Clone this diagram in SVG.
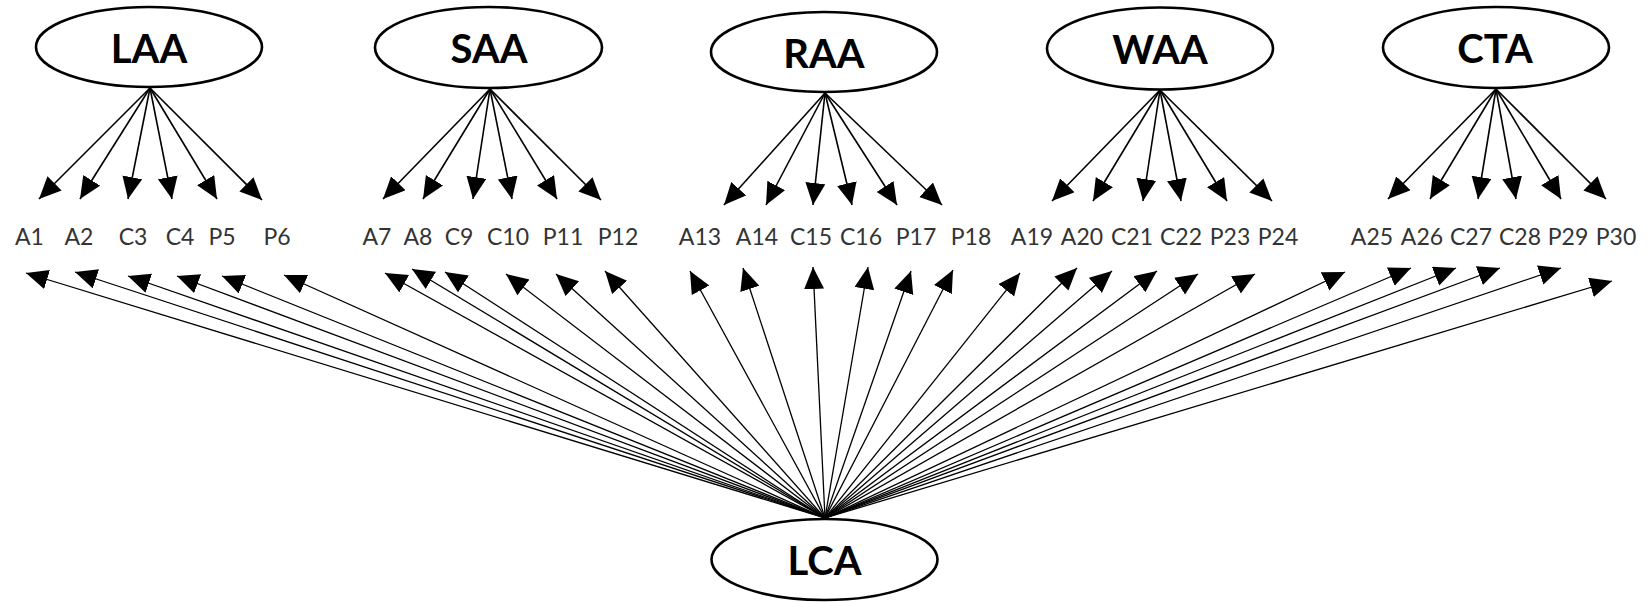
<svg xmlns="http://www.w3.org/2000/svg" width="1648" height="602" viewBox="0 0 1648 602">
<style>
.node ellipse{fill:#fff;stroke:#000;stroke-width:2.6}
.title{font-family:Lato,"Liberation Sans",sans-serif;font-weight:700;font-size:40px;fill:#000;text-anchor:middle}
.lbl{font-family:Lato,"Liberation Sans",sans-serif;font-size:23px;fill:#333;text-anchor:middle}
.top line{stroke:#000;stroke-width:1.6;marker-end:url(#ah)}
.bot line{stroke:#000;stroke-width:1.3;marker-end:url(#ah)}
</style>
<defs>
<marker id="ah" markerUnits="userSpaceOnUse" markerWidth="24" markerHeight="22" refX="22" refY="10" orient="auto" viewBox="0 0 24 22">
<path d="M0,0 L22,10 L0,20 z" fill="#000"/>
</marker>
</defs>
<rect width="1648" height="602" fill="#fff"/>
<g id="connectors">
<g class="top">
<line x1="150" y1="88" x2="39" y2="199"/>
<line x1="150" y1="88" x2="80" y2="199"/>
<line x1="150" y1="88" x2="128" y2="199"/>
<line x1="150" y1="88" x2="172" y2="199"/>
<line x1="150" y1="88" x2="217" y2="199"/>
<line x1="150" y1="88" x2="262" y2="200"/>
<line x1="490" y1="89" x2="383" y2="199"/>
<line x1="490" y1="89" x2="423" y2="199"/>
<line x1="490" y1="89" x2="473" y2="199"/>
<line x1="490" y1="89" x2="512" y2="199"/>
<line x1="490" y1="89" x2="557" y2="199"/>
<line x1="490" y1="89" x2="601" y2="200"/>
<line x1="825" y1="93" x2="724" y2="205"/>
<line x1="825" y1="93" x2="766" y2="205"/>
<line x1="825" y1="93" x2="813" y2="205"/>
<line x1="825" y1="93" x2="852" y2="205"/>
<line x1="825" y1="93" x2="897" y2="205"/>
<line x1="825" y1="93" x2="942" y2="205"/>
<line x1="1160" y1="90" x2="1052" y2="201"/>
<line x1="1160" y1="90" x2="1093" y2="201"/>
<line x1="1160" y1="90" x2="1143" y2="201"/>
<line x1="1160" y1="90" x2="1181" y2="201"/>
<line x1="1160" y1="90" x2="1227" y2="201"/>
<line x1="1160" y1="90" x2="1272" y2="201"/>
<line x1="1496" y1="89" x2="1388" y2="199"/>
<line x1="1496" y1="89" x2="1430" y2="199"/>
<line x1="1496" y1="89" x2="1478" y2="199"/>
<line x1="1496" y1="89" x2="1516" y2="199"/>
<line x1="1496" y1="89" x2="1561" y2="199"/>
<line x1="1496" y1="89" x2="1606" y2="199"/>
</g>
<g class="bot">
<line x1="825" y1="518" x2="26" y2="273"/>
<line x1="825" y1="518" x2="75" y2="272"/>
<line x1="825" y1="518" x2="128" y2="276"/>
<line x1="825" y1="518" x2="177" y2="276"/>
<line x1="825" y1="518" x2="222" y2="276"/>
<line x1="825" y1="518" x2="284" y2="275"/>
<line x1="825" y1="518" x2="385" y2="273"/>
<line x1="825" y1="518" x2="412" y2="269"/>
<line x1="825" y1="518" x2="445" y2="272"/>
<line x1="825" y1="518" x2="506" y2="274"/>
<line x1="825" y1="518" x2="556" y2="274"/>
<line x1="825" y1="518" x2="605" y2="271"/>
<line x1="825" y1="518" x2="690" y2="271"/>
<line x1="825" y1="518" x2="743" y2="268"/>
<line x1="825" y1="518" x2="813" y2="267"/>
<line x1="825" y1="518" x2="868" y2="267"/>
<line x1="825" y1="518" x2="911" y2="271"/>
<line x1="825" y1="518" x2="953" y2="270"/>
<line x1="825" y1="518" x2="1020" y2="273"/>
<line x1="825" y1="518" x2="1077" y2="268"/>
<line x1="825" y1="518" x2="1112" y2="271"/>
<line x1="825" y1="518" x2="1157" y2="271"/>
<line x1="825" y1="518" x2="1198" y2="274"/>
<line x1="825" y1="518" x2="1255" y2="274"/>
<line x1="825" y1="518" x2="1345" y2="272"/>
<line x1="825" y1="518" x2="1411" y2="268"/>
<line x1="825" y1="518" x2="1456" y2="268"/>
<line x1="825" y1="518" x2="1500" y2="268"/>
<line x1="825" y1="518" x2="1561" y2="268"/>
<line x1="825" y1="518" x2="1612" y2="281"/>
</g>
</g>
<g id="LAA" class="node"><ellipse cx="149" cy="47" rx="113" ry="40"/><text class="title" x="149" y="63">LAA</text></g>
<g id="SAA" class="node"><ellipse cx="488.5" cy="47.5" rx="113.5" ry="40.5"/><text class="title" x="489" y="63">SAA</text></g>
<g id="RAA" class="node"><ellipse cx="824" cy="52" rx="113" ry="40"/><text class="title" x="824" y="68">RAA</text></g>
<g id="WAA" class="node"><ellipse cx="1160" cy="48.5" rx="113" ry="41"/><text class="title" x="1160" y="64">WAA</text></g>
<g id="CTA" class="node"><ellipse cx="1496" cy="47.5" rx="113" ry="40.5"/><text class="title" x="1495" y="63">CTA</text></g>
<g id="LCA" class="node"><ellipse cx="824.5" cy="559.5" rx="113" ry="40.5"/><text class="title" x="824.5" y="575">LCA</text></g>
<g id="items">
<text class="lbl" x="29.5" y="245">A1</text>
<text class="lbl" x="79" y="245">A2</text>
<text class="lbl" x="133" y="245">C3</text>
<text class="lbl" x="180" y="245">C4</text>
<text class="lbl" x="222" y="245">P5</text>
<text class="lbl" x="277" y="245">P6</text>
<text class="lbl" x="377" y="245">A7</text>
<text class="lbl" x="418" y="245">A8</text>
<text class="lbl" x="459" y="245">C9</text>
<text class="lbl" x="508" y="245">C10</text>
<text class="lbl" x="563" y="245">P11</text>
<text class="lbl" x="618" y="245">P12</text>
<text class="lbl" x="700" y="245">A13</text>
<text class="lbl" x="757" y="245">A14</text>
<text class="lbl" x="811" y="245">C15</text>
<text class="lbl" x="861" y="245">C16</text>
<text class="lbl" x="916" y="245">P17</text>
<text class="lbl" x="971" y="245">P18</text>
<text class="lbl" x="1032" y="245">A19</text>
<text class="lbl" x="1082" y="245">A20</text>
<text class="lbl" x="1132" y="245">C21</text>
<text class="lbl" x="1181" y="245">C22</text>
<text class="lbl" x="1230" y="245">P23</text>
<text class="lbl" x="1278" y="245">P24</text>
<text class="lbl" x="1372" y="245">A25</text>
<text class="lbl" x="1422" y="245">A26</text>
<text class="lbl" x="1471" y="245">C27</text>
<text class="lbl" x="1520" y="245">C28</text>
<text class="lbl" x="1568" y="245">P29</text>
<text class="lbl" x="1616" y="245">P30</text>
</g>
</svg>
